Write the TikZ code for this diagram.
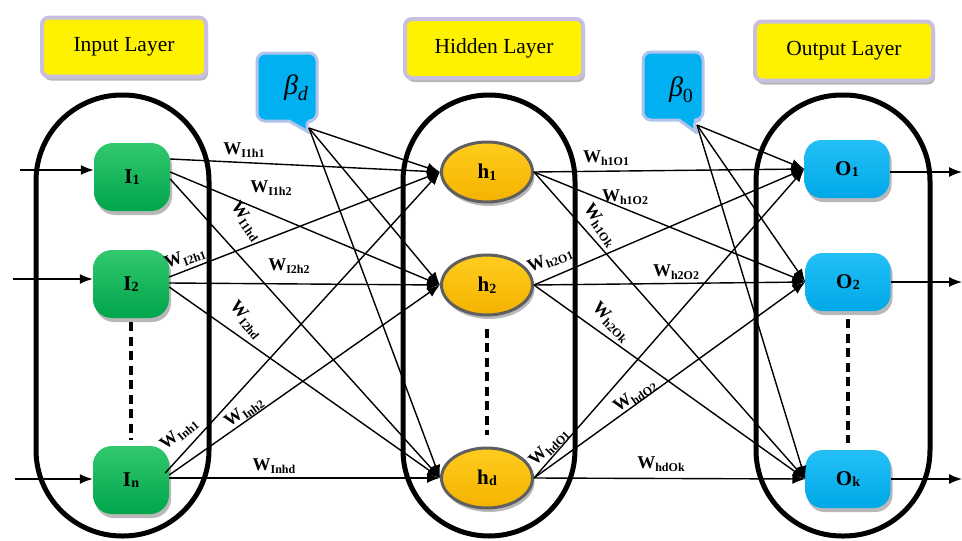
\documentclass[tikz,border=0pt]{standalone}
\usepackage{fontspec}
\setmainfont{Liberation Serif}
\usetikzlibrary{arrows.meta,shadows,shapes.geometric}

\definecolor{lav}{RGB}{200,192,222}
\definecolor{callbd}{RGB}{175,195,235}
\definecolor{callfill}{RGB}{0,176,240}
\definecolor{grtop}{RGB}{50,200,110}
\definecolor{grbot}{RGB}{0,165,75}
\definecolor{ortop}{RGB}{255,205,30}
\definecolor{orbot}{RGB}{245,178,0}
\definecolor{orbd}{RGB}{95,95,95}
\definecolor{bltop}{RGB}{35,192,246}
\definecolor{blbot}{RGB}{0,168,232}

% weight label: bold W with a lowered bold subscript
\newcommand\wgt[1]{W\raisebox{-3.5pt}{\fontsize{12}{12}\selectfont\bfseries #1}}
% node label: letter with a small index
\newcommand\nlab[2]{#1\kern0.3pt\raisebox{-1.5pt}{\fontsize{14}{14}\selectfont\bfseries #2}}
% bias symbol: italic beta with a lowered index
\newcommand\bias[1]{{\fontsize{28}{30}\selectfont\itshape β}\raisebox{-6pt}{\fontsize{20}{20}\selectfont #1}}

\begin{document}
\begin{tikzpicture}[x=1pt,y=-1pt,
  softshadow/.style={drop shadow={shadow xshift=2pt,shadow yshift=-4pt,opacity=0.28,fill=black}},
  title/.style={draw=lav,line width=4pt,fill=yellow,rounded corners=7pt,softshadow,
    minimum height=59pt,inner sep=0pt,font=\fontsize{21.5}{24}\selectfont},
  layerbox/.style={line width=5pt,rounded corners=86pt},
  innode/.style={rectangle,rounded corners=19pt,minimum width=76pt,minimum height=68pt,
    top color=grtop,bottom color=grbot,softshadow,inner sep=0pt,
    font=\fontsize{21}{22}\selectfont\bfseries},
  hidnode/.style={ellipse,draw=orbd,line width=3pt,minimum width=91pt,minimum height=60pt,
    top color=ortop,bottom color=orbot,softshadow,inner sep=0pt,
    font=\fontsize{21}{22}\selectfont\bfseries},
  outnode/.style={rectangle,rounded corners=17pt,minimum width=85pt,minimum height=58pt,
    top color=bltop,bottom color=blbot,softshadow,inner sep=0pt,
    font=\fontsize{21}{22}\selectfont\bfseries},
  callout/.style={draw=callbd,line width=3pt,fill=callfill,line join=round},
  conn/.style={line width=1.4pt,-{Latex[length=13pt,width=10pt]}},
  dotsline/.style={line width=4pt,dash pattern=on 9pt off 5.5pt},
  wlab/.style={font=\fontsize{18}{20}\selectfont\bfseries,inner sep=0pt}]

\useasboundingbox (0,0) rectangle (962,541);

% layer enclosures
\draw[layerbox] (36,95) rectangle (209,536);
\draw[layerbox] (403,95) rectangle (575,536);
\draw[layerbox] (756,95) rectangle (930,536);

% layer titles
\node[title,minimum width=164pt] (tin) at (124,47) {Input Layer};
\node[title,minimum width=178pt] (thid) at (494,48.5) {Hidden Layer};
\node[title,minimum width=178pt] (tout) at (844,51) {Output Layer};

% bias callouts
\draw[callout,rounded corners=8pt] (289,121) -- (257,121) -- (257,53) -- (317,53) -- (317,121) -- (304,121)
  [sharp corners] -- (310,133) -- cycle;
\node[inner sep=0pt] (bd) at (296,88) {\bias{\itshape d}};
\coordinate (bdtip) at (309,128);

\draw[callout,rounded corners=8pt] (679,120) -- (643,120) -- (643,52) -- (703,52) -- (703,120) -- (692,120)
  [sharp corners] -- (697,133) -- cycle;
\node[inner sep=0pt] (bz) at (681,90) {\bias{0}};
\coordinate (bztip) at (697,125);

% neurons
\node[innode] (I1) at (132,177) {\nlab{I}{1}};
\node[innode] (I2) at (131,284) {\nlab{I}{2}};
\node[innode] (In) at (131,480) {\nlab{I}{n}};

\node[hidnode] (h1) at (487,172) {\nlab{h}{1}};
\node[hidnode] (h2) at (487,285) {\nlab{h}{2}};
\node[hidnode] (hd) at (487,478) {\nlab{h}{d}};

\node[outnode] (O1) at (847,169) {\nlab{O}{1}};
\node[outnode] (O2) at (848,282) {\nlab{O}{2}};
\node[outnode] (Ok) at (848,479) {\nlab{O}{k}};

% vertical ellipsis between neurons
\draw[dotsline,shorten <=4pt,shorten >=6pt] (I2.south) -- (In.north);
\draw[dotsline,shorten <=12pt,shorten >=12pt] (h2.south) -- (hd.north);
\draw[dotsline,shorten <=8pt,shorten >=7pt] (O2.south) -- (Ok.north);

% external inputs and outputs
\coordinate (x1) at (20,170);
\coordinate (x2) at (13,279);
\coordinate (xn) at (15,479);
\coordinate (yend) at (962,0);
\draw[conn] (x1) -- (x1 -| I1.west);
\draw[conn] (x2) -- (x2 -| I2.west);
\draw[conn] (xn) -- (xn -| In.west);
\draw[conn] ([yshift=-3pt]O1.east) -- ([yshift=-3pt]O1.east -| yend);
\draw[conn] (O2.east) -- (O2.east -| yend);
\draw[conn] (Ok.east) -- (Ok.east -| yend);

% input -> hidden weights
\draw[conn] ([yshift=18pt]I1.east) -- (h1.west);
\draw[conn] ([yshift=5pt]I1.east) -- (h2.west);
\draw[conn] ([yshift=-2pt]I1.east) -- (hd.west);
\draw[conn] ([yshift=7pt]I2.east) -- (h1.west);
\draw[conn] ([yshift=1pt]I2.east) -- (h2.west);
\draw[conn] ([yshift=-3pt]I2.east) -- (hd.west);
\draw[conn] ([yshift=7pt,xshift=-4pt]In.east) -- (h1.west);
\draw[conn] ([yshift=5pt]In.east) -- (h2.west);
\draw[conn] ([yshift=2pt]In.east) -- (hd.west);

% hidden bias
\draw[conn] (bdtip) -- (h1.west);
\draw[conn] (bdtip) -- (h2.west);
\draw[conn] (bdtip) -- (hd.west);

% hidden -> output weights
\draw[conn] (h1.east) -- (O1.west);
\draw[conn] (h1.east) -- (O2.west);
\draw[conn] (h1.east) -- (Ok.west);
\draw[conn] (h2.east) -- (O1.west);
\draw[conn] (h2.east) -- (O2.west);
\draw[conn] (h2.east) -- (Ok.west);
\draw[conn] (hd.east) -- (O1.west);
\draw[conn] (hd.east) -- (O2.west);
\draw[conn] (hd.east) -- (Ok.west);

% output bias
\draw[conn] (bztip) -- (O1.west);
\draw[conn] (bztip) -- (O2.west);
\draw[conn] (bztip) -- (Ok.west);

% weight labels, input side
\node[wlab] (w11) at (244,150) {\wgt{I1h1}};
\node[wlab] (w12) at (271,188) {\wgt{I1h2}};
\node[wlab,rotate=-55] (w1d) at (246,221) {\wgt{I1hd}};
\node[wlab,rotate=20] (w21) at (185,258) {\wgt{I2h1}};
\node[wlab] (w22) at (289,266) {\wgt{I2h2}};
\node[wlab,rotate=-50] (w2d) at (246,320) {\wgt{I2hd}};
\node[wlab,rotate=40] (wn1) at (179,434) {\wgt{Inh1}};
\node[wlab,rotate=36] (wn2) at (244,412) {\wgt{Inh2}};
\node[wlab] (wnd) at (274,466) {\wgt{Inhd}};

% weight labels, output side
\node[wlab] (v11) at (606,158) {\wgt{h1O1}};
\node[wlab] (v12) at (625,197) {\wgt{h1O2}};
\node[wlab,rotate=-55] (v1k) at (600,225) {\wgt{h1Ok}};
\node[wlab,rotate=22] (v21) at (550,260) {\wgt{h2O1}};
\node[wlab] (v22) at (676,272) {\wgt{h2O2}};
\node[wlab,rotate=-45] (v2k) at (611,322) {\wgt{h2Ok}};
\node[wlab,rotate=35] (vd2) at (635,396) {\wgt{hdO2}};
\node[wlab,rotate=45] (vd1) at (549,447) {\wgt{hdO1}};
\node[wlab] (vdk) at (661,464) {\wgt{hdOk}};

\end{tikzpicture}
\end{document}
